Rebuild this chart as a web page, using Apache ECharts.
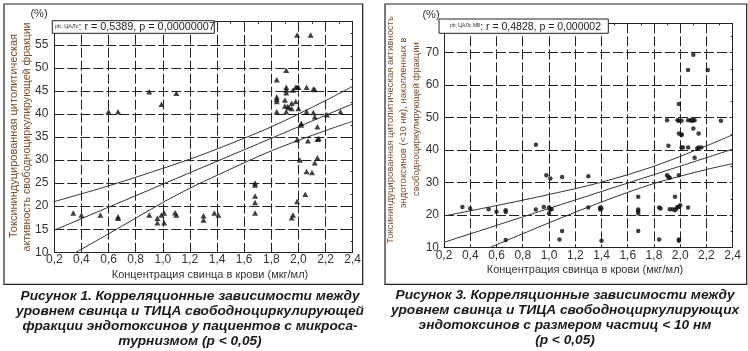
<!DOCTYPE html>
<html><head><meta charset="utf-8">
<script src="https://cdn.jsdelivr.net/npm/echarts/dist/echarts.min.js"></script>
<style>html,body{margin:0;padding:0;background:#fff}#c{width:748px;height:351px}</style>
</head><body><div id="c"></div>
<script>
// ---------- Figure 1 data ----------
const pts1 = [
  [0.34,18.5],[0.40,18.1],[0.54,18.1],[0.60,40.5],[0.67,40.5],[0.67,17.7],[0.67,17.4],[0.90,44.8],[0.90,18.1],
  [0.99,42.1],[1.10,44.5],[0.96,17.4],[0.96,16.4],[0.99,18.1],[1.01,18.5],[1.01,16.4],[1.09,18.6],[1.10,18.1],
  [1.30,17.9],[1.30,17.0],[1.38,18.5],[1.41,18.1],
  [1.68,25.0],[1.68,24.6],[1.68,22.2],[1.68,20.8],[1.68,18.5],
  [1.99,57.1],[2.09,57.1],[1.91,49.5],[1.84,47.4],
  [1.91,45.8],[1.91,45.2],[1.91,44.6],[1.96,45.2],[1.98,45.8],[1.99,45.8],[2.00,45.8],[2.06,45.8],[2.11,45.4],[2.12,45.3],
  [1.84,43.7],[1.84,43.2],[1.84,42.7],[1.90,43.0],[1.90,41.7],[1.92,41.6],[1.93,41.4],[1.95,42.3],[1.98,42.7],[1.95,41.2],[2.00,41.2],
  [1.84,40.5],[1.91,40.5],[2.06,40.5],[2.11,40.3],[2.12,39.4],[2.21,39.8],[2.31,40.5],
  [2.02,38.0],[2.02,37.6],[2.14,37.2],[1.99,34.4],[2.07,34.2],[2.14,34.5],[2.15,34.7],
  [2.01,30.0],[2.12,29.4],[2.14,30.5],[2.06,27.5],[2.10,27.3],
  [2.05,22.6],[1.99,21.0],[1.96,18.1],[1.95,17.5]
];
const mid1 = [[0.2,14.8],[2.4,42.2]];
const up1  = [[0.2,21.0],[0.6,24.4],[1.0,28.2],[1.2,30.2],[1.4,32.4],[1.8,37.2],[2.2,42.9],[2.4,46.0]];
const lo1  = [[0.36,10.0],[0.6,14.0],[1.0,20.8],[1.2,23.9],[1.4,26.7],[1.8,32.0],[2.2,36.4],[2.4,38.4]];
const x1Range = [0.2, 2.4], x1Step = 0.2;
const y1Range = [10, 60], y1Step = 5;
const legend1 = ['pb; ЦАЛс', ': r = 0,5389, p = 0,00000007'];
const yTitle1 = ['Токсининдуцированная цитолитическая', 'активность свободноциркулирующей фракции'];
const caption1 = ['Рисунок 1. Корреляционные зависимости между', 'уровнем свинца и ТИЦА свободноциркулирующей', 'фракции эндотоксинов у пациентов с микроса-', 'турнизмом (p < 0,05)'];

// ---------- Figure 3 data ----------
const pts2 = [
  [0.34,22.5],[0.40,22.0],[0.54,21.8],[0.60,21.0],[0.67,21.5],[0.67,20.9],[0.67,12.3],[0.90,41.6],[0.90,21.7],[0.96,22.5],
  [0.98,32.2],[1.01,31.2],[1.00,22.3],[1.01,21.7],[1.00,20.5],[1.02,21.8],
  [1.08,12.5],[1.10,15.1],[1.10,31.7],[1.30,31.9],[1.30,22.3],[1.39,22.3],[1.40,22.0],[1.39,21.7],[1.40,12.1],
  [1.68,25.6],[1.68,21.7],[1.68,21.2],[1.68,20.5],[1.68,15.1],
  [1.84,22.3],[1.85,22.0],[1.84,12.5],[1.90,49.2],[1.91,41.3],[1.90,32.2],[1.91,31.7],[1.92,31.5],
  [1.92,21.8],[1.94,21.8],[1.96,21.5],[1.96,25.6],[1.97,22.0],[1.98,22.5],[1.99,22.5],[2.00,23.0],
  [1.99,32.2],[1.99,54.2],[1.98,49.2],[1.99,49.0],[2.01,49.0],[1.99,45.1],[2.01,44.8],[2.01,44.6],
  [2.02,40.8],[2.01,40.8],[2.06,40.8],[2.06,22.3],[1.99,12.5],[1.99,12.1],
  [2.06,64.6],[2.10,69.3],[2.21,64.6],[2.06,49.2],[2.08,49.2],[2.09,49.0],[2.10,49.2],[2.11,49.2],[2.10,46.6],
  [2.14,45.1],[2.11,37.6],[2.13,40.5],[2.14,40.8],[2.16,40.8],[2.31,49.0]
];
const mid2 = [[0.2,11.6],[2.4,40.25]];
const up2  = [[0.2,19.7],[0.6,22.9],[1.0,26.3],[1.4,30.1],[1.8,35.0],[2.2,41.3],[2.4,44.7]];
const lo2  = [[0.55,10.0],[1.0,17.6],[1.4,24.0],[1.8,29.7],[2.2,34.0],[2.4,35.8]];
const x2Range = [0.2, 2.4], x2Step = 0.2;
const y2Range = [10, 79], y2Step = 10;
const legend2 = ['pb; ЦАЛс МВ', ': r = 0,4828, p = 0,000002'];
const yTitle2 = ['Токсининдуцированная цитолитическая активность', 'эндотоксинов (<10 нм), накопленных в', 'свободноциркулирующей фракции'];
const caption2 = ['Рисунок 3. Корреляционные зависимости между', 'уровнем свинца и ТИЦА свободноциркулирующих', 'эндотоксинов с размером частиц < 10 нм', '(p < 0,05)'];

const xTitle = 'Концентрация свинца в крови (мкг/мл)';
const FONT = '"Liberation Sans", Arial, sans-serif';
const INK = '#222';

function xMain(gi, r, step, margin) {
  return { gridIndex: gi, type: 'value', position: 'bottom', min: r[0], max: r[1], interval: step,
    axisLine: { show: true, onZero: false, lineStyle: { color: INK, width: 1 } },
    axisTick: { show: false },
    axisLabel: { fontSize: 12, fontFamily: FONT, color: '#333', margin: margin,
      formatter: v => v.toFixed(1).replace('.', ',') },
    splitLine: { show: true, lineStyle: { color: INK, width: 1, type: [10, 3] } } };
}
function xTop(gi, r, step) {
  return { gridIndex: gi, type: 'value', position: 'top', min: r[0], max: r[1], interval: step,
    axisLine: { show: true, onZero: false, lineStyle: { color: INK, width: 1 } },
    axisTick: { show: true, inside: true, length: 3, lineStyle: { color: INK } },
    minorTick: { show: true, splitNumber: 2, length: 2, lineStyle: { color: INK } },
    axisLabel: { show: false }, splitLine: { show: false } };
}
function yMain(gi, r, step, margin, fmt) {
  return { gridIndex: gi, type: 'value', position: 'left', min: r[0], max: r[1], interval: step,
    axisLine: { show: true, onZero: false, lineStyle: { color: INK, width: 1 } },
    axisTick: { show: false },
    axisLabel: { fontSize: 12, fontFamily: FONT, color: '#333', margin: margin, formatter: fmt },
    splitLine: { show: true, lineStyle: { color: INK, width: 1, type: [10, 3] } } };
}
function yRight(gi, r, step) {
  return { gridIndex: gi, type: 'value', position: 'right', min: r[0], max: r[1], interval: step,
    axisLine: { show: true, onZero: false, lineStyle: { color: INK, width: 1 } },
    axisTick: { show: true, inside: true, length: 3, lineStyle: { color: INK } },
    minorTick: { show: true, splitNumber: 2, length: 2, lineStyle: { color: INK } },
    axisLabel: { show: false }, splitLine: { show: false } };
}
function band(data, xi, yi) {
  return { type: 'line', data: data, xAxisIndex: xi, yAxisIndex: yi, showSymbol: false, smooth: 0.3,
    clip: true, silent: true, lineStyle: { color: '#333', width: 1 }, z: 3 };
}
function rotText(x, y, text, size) {
  return { type: 'text', x: x, y: y, rotation: Math.PI / 2, z: 10,
    style: { text: text, fontSize: size, fontFamily: FONT, fill: '#7a4d26', align: 'center', verticalAlign: 'middle' } };
}
function plainText(x, y, text, size, extra) {
  return Object.assign({ type: 'text', x: x, y: y, z: 10,
    style: Object.assign({ text: text, fontSize: size, fontFamily: FONT, fill: '#333', align: 'center', verticalAlign: 'middle' }, extra || {}) });
}
function legendBox(x, y, w, h, tx, parts, sSize, nSize) {
  return [
    { type: 'rect', shape: { x: x, y: y, width: w, height: h }, z: 20, style: { fill: '#fff', stroke: INK, lineWidth: 1 } },
    { type: 'text', x: tx, y: y + h / 2 + 0.5, z: 21,
      style: { text: '{s|' + parts[0] + '}{n|' + parts[1] + '}', align: 'left', verticalAlign: 'middle',
        rich: { s: { fontSize: sSize, fontFamily: FONT, fill: '#333', verticalAlign: 'bottom', padding: [0, 0, 4, 0] },
                n: { fontSize: nSize, fontFamily: FONT, fill: '#222', verticalAlign: 'bottom' } } } }
  ];
}
function caption(cx, top, lines) {
  return { type: 'text', x: cx, y: top, z: 10,
    style: { text: lines.join('\n'), fontSize: 13.7, fontWeight: 'bold', fontStyle: 'italic', fontFamily: FONT,
      fill: '#1a1a1a', align: 'center', verticalAlign: 'top', lineHeight: 15 } };
}

const graphics = [
  { type: 'rect', shape: { x: 4, y: 4, width: 358.7, height: 280.3 }, z: 1, style: { fill: 'none', stroke: INK, lineWidth: 1.2 } },
  { type: 'rect', shape: { x: 385, y: 4, width: 361.7, height: 280.3 }, z: 1, style: { fill: 'none', stroke: INK, lineWidth: 1.2 } },
  rotText(13.5, 136, yTitle1[0], 11),
  rotText(26.7, 137, yTitle1[1], 10.6),
  rotText(390.7, 130, yTitle2[0], 9.5),
  rotText(403.3, 123, yTitle2[1], 9.5),
  rotText(416.7, 119, yTitle2[2], 9.5),
  plainText(39, 13.5, '(%)', 11),
  plainText(431, 15, '(%)', 11),
  plainText(210, 275, xTitle, 11),
  plainText(585, 269.5, xTitle, 11),
  caption(190, 288.5, caption1),
  caption(565, 287.5, caption2)
].concat(legendBox(52.3, 20.7, 162, 12.6, 55, legend1, 5.5, 10.8))
 .concat(legendBox(439, 19, 169.3, 14.3, 450, legend2, 5, 10.5));

const option = {
  animation: false,
  backgroundColor: '#fff',
  grid: [
    { left: 54.3, top: 21.7, width: 298.4, height: 230.6 },
    { left: 444, top: 23.3, width: 288.7, height: 224.2 }
  ],
  xAxis: [ xMain(0, x1Range, x1Step, 1), xMain(1, x2Range, x2Step, 2), xTop(0, x1Range, x1Step), xTop(1, x2Range, x2Step) ],
  yAxis: [
    yMain(0, y1Range, y1Step, 6, v => (v >= 60 ? '' : String(v))),
    yMain(1, y2Range, y2Step, 5, v => (v % 10 === 0 ? String(v) : '')),
    yRight(0, y1Range, y1Step), yRight(1, y2Range, y2Step)
  ],
  series: [
    { type: 'scatter', data: pts1, xAxisIndex: 0, yAxisIndex: 0, symbol: 'triangle', symbolSize: [6, 5.5],
      itemStyle: { color: '#111' }, z: 4 },
    band(mid1, 0, 0), band(up1, 0, 0), band(lo1, 0, 0),
    { type: 'scatter', data: pts2, xAxisIndex: 1, yAxisIndex: 1, symbol: 'circle', symbolSize: 4.5,
      itemStyle: { color: '#111' }, z: 4 },
    band(mid2, 1, 1), band(up2, 1, 1), band(lo2, 1, 1)
  ],
  graphic: graphics
};
const chart = echarts.init(document.getElementById('c'), null, { renderer: 'canvas' });
chart.setOption(option);
</script></body></html>
